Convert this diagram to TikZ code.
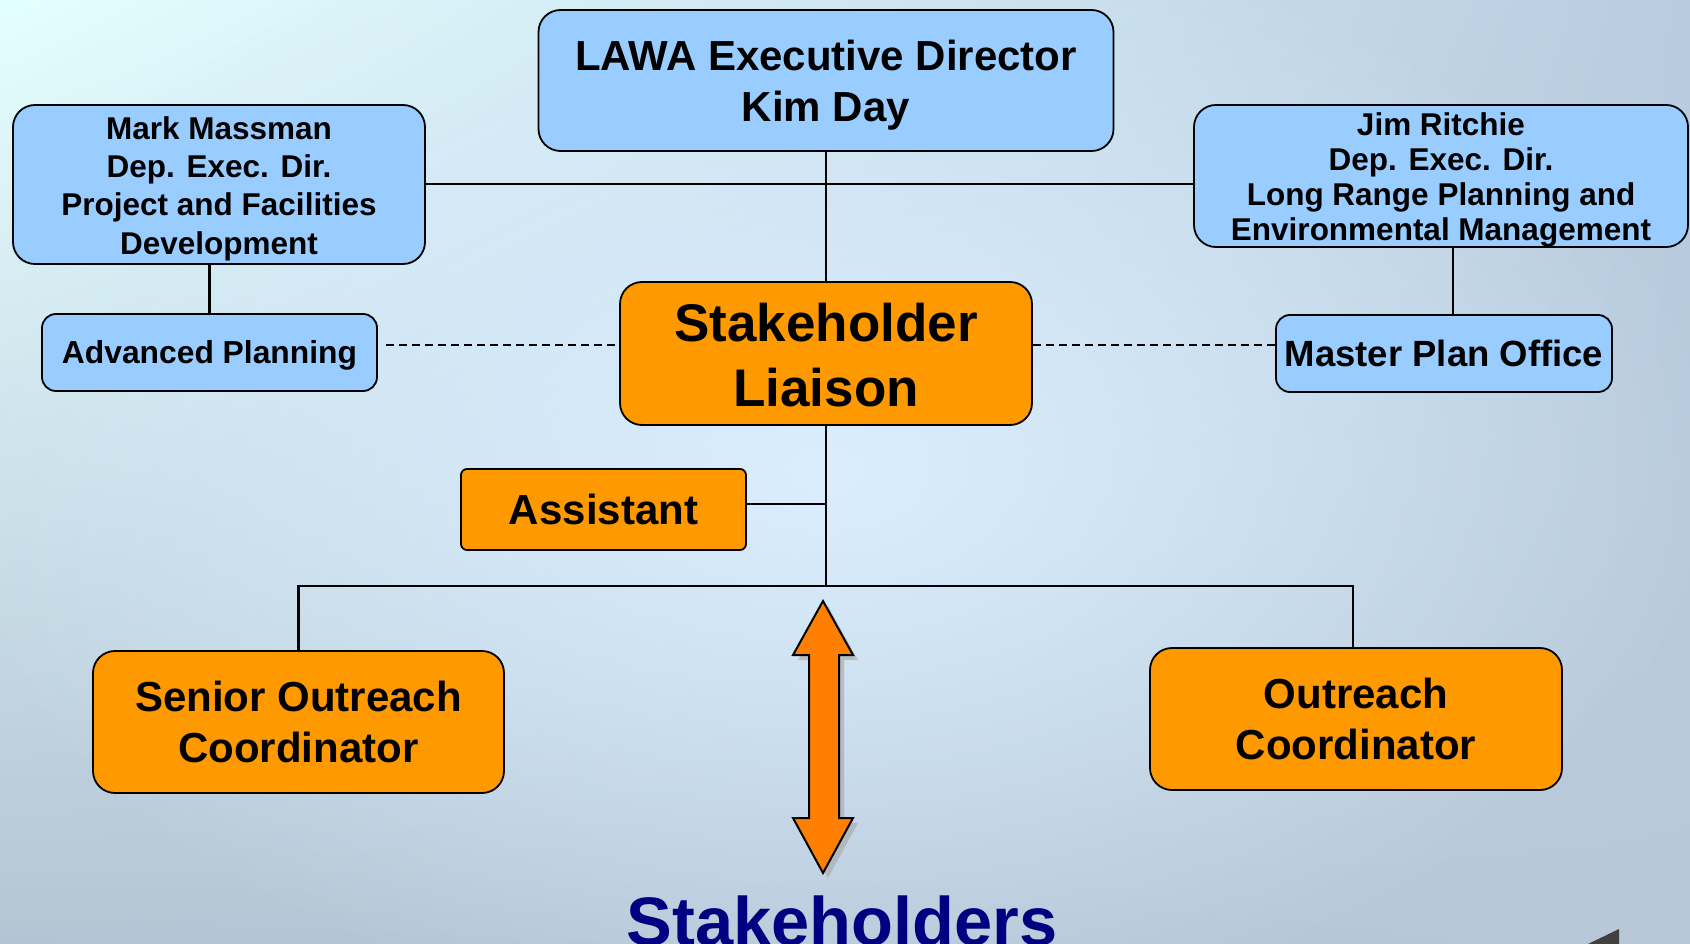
\documentclass[tikz,border=0pt]{standalone}
\usepackage{fontspec}
\setmainfont{Liberation Sans}
\usetikzlibrary{fadings,shadings}
\tikzfading[name=myfadeout, inner color=transparent!0, outer color=transparent!100]
\newcommand{\mystrut}[1]{\rule{0pt}{#1}}
\definecolor{boxblue}{RGB}{153,204,255}
\definecolor{boxorange}{RGB}{255,153,0}
\definecolor{arroworange}{RGB}{255,128,0}
\definecolor{navy}{RGB}{0,0,128}
\definecolor{bgUL}{RGB}{228,255,255}
\definecolor{bgUR}{RGB}{184,204,224}
\definecolor{bgLL}{RGB}{180,196,212}
\definecolor{bgLR}{RGB}{184,200,216}
\definecolor{bgC}{RGB}{218,238,255}
\begin{document}
\begin{tikzpicture}[x=1pt,y=-1pt,
  box/.style={draw=black, line width=1.8pt, rounded corners=22pt, align=center, inner sep=0pt, font=\bfseries},
  smallbox/.style={box, rounded corners=14pt},
  bluebox/.style={fill=boxblue},
  orangebox/.style={fill=boxorange},
  conn/.style={draw=black, line width=2.4pt},
  dashconn/.style={draw=black, line width=1.5pt, dash pattern=on 8pt off 5pt},
]
% background
\useasboundingbox (0,0) rectangle (1690,944);
\shade[upper left=bgUL, upper right=bgUR, lower left=bgLL, lower right=bgLR] (0,0) rectangle (1690,944);
\fill[bgC, path fading=myfadeout] (826,470) ellipse [x radius=900, y radius=560];

% nodes
\node[box, bluebox, minimum width=575pt, minimum height=141pt, font=\bfseries\fontsize{42}{51}\selectfont] (lawa) at (826,80.5) {\mystrut{40.5pt}LAWA Executive Director\\Kim Day};
\node[box, bluebox, minimum width=412pt, minimum height=159pt, font=\bfseries\fontsize{31.5}{38.3}\selectfont] (mark) at (219,184.5) {\mystrut{31pt}Mark Massman\\Dep. Exec. Dir.\\Project and Facilities\\Development};
\node[box, bluebox, minimum width=494pt, minimum height=142pt, font=\bfseries\fontsize{31.5}{34.8}\selectfont] (jim) at (1441,176) {\mystrut{31pt}Jim Ritchie\\Dep. Exec. Dir.\\Long Range Planning and\\Environmental Management};
\node[box, orangebox, minimum width=412pt, minimum height=143pt, font=\bfseries\fontsize{53}{65}\selectfont] (sl) at (826,353.5) {\mystrut{42.5pt}Stakeholder\\Liaison};
\node[smallbox, bluebox, minimum width=335pt, minimum height=77pt, font=\bfseries\fontsize{31.8}{38}\selectfont] (ap) at (209.5,352.5) {\mystrut{29pt}Advanced Planning};
\node[smallbox, bluebox, minimum width=336pt, minimum height=77pt, font=\bfseries\fontsize{36.5}{42}\selectfont] (mpo) at (1444,353.5) {Master Plan Office};
\node[smallbox, orangebox, rounded corners=6pt, minimum width=285pt, minimum height=81pt, font=\bfseries\fontsize{42}{50}\selectfont] (asst) at (603.5,509.5) {Assistant};
\node[box, orangebox, minimum width=411pt, minimum height=142pt, font=\bfseries\fontsize{42}{51}\selectfont] (soc) at (298.5,722) {Senior Outreach\\Coordinator};
\node[box, orangebox, minimum width=412pt, minimum height=142pt, font=\bfseries\fontsize{42}{51}\selectfont] (oc) at (1356,719) {Outreach\\Coordinator};

% helper coordinates
\coordinate (hl) at (0,184);
\coordinate (dl) at (0,345);
\coordinate (al) at (0,504);
\coordinate (j) at (826,586);
\coordinate (jx) at (1453,0);
\coordinate (jr) at (1353,0);

% connectors
\draw[conn] (mark.east |- hl) -- (jim.west |- hl);
\draw[conn] (lawa.south) -- (sl.north);
\draw[conn] (ap.north |- mark.south) -- (ap.north);
\draw[conn] (jx |- jim.south) -- (jx |- mpo.north);
\draw[dashconn] ([xshift=8pt]ap.east |- dl) -- (sl.west |- dl);
\draw[dashconn] (sl.east |- dl) -- (mpo.west |- dl);
\draw[conn] (sl.south) -- (j);
\draw[conn] (asst.east |- al) -- (j |- al);
\draw[conn] (soc.north) -- (soc.north |- j) -- (jr |- j) -- (jr |- oc.north);

% double arrow with shadow
\fill[black!35, opacity=0.6, shift={(5,5)}] (823,601) -- (853,655) -- (839,655) -- (839,818) -- (853,818) -- (823,873) -- (793,818) -- (809,818) -- (809,655) -- (793,655) -- cycle;
\draw[fill=arroworange, line width=2pt, line join=miter] (823,601) -- (853,655) -- (839,655) -- (839,818) -- (853,818) -- (823,873) -- (793,818) -- (809,818) -- (809,655) -- (793,655) -- cycle;

% stakeholders label
\node[anchor=base, inner sep=0pt, text=navy, font=\bfseries\fontsize{68.6}{80}\selectfont] (stk) at (842,945) {Stakeholders};

% corner decoration
\fill[black!75] (1588,944) -- (1619,929) -- (1619,944) -- cycle;
\end{tikzpicture}
\end{document}
